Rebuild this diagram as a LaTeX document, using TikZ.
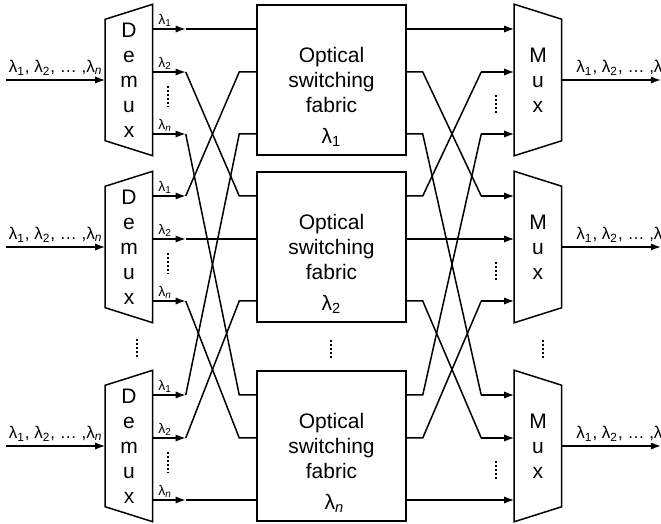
\documentclass[tikz,border=0pt]{standalone}
\usepackage{fontspec}
\setmainfont{Liberation Sans}
\usetikzlibrary{calc,arrows.meta,positioning}

\newcommand{\wl}[1]{λ\textsubscript{#1}}

\tikzset{
  demux/.style={minimum width=23pt, minimum height=75pt, inner sep=0pt, align=center},
  fabric/.style={draw, minimum width=74.5pt, minimum height=75pt, inner sep=0pt, align=center},
  wlabel/.style={font=\fontsize{7}{8}\selectfont, inner sep=1pt, anchor=south west},
  io/.style={font=\fontsize{8.5}{10}\selectfont, inner sep=2pt},
  sig/.style={-{Latex[length=5pt,width=3.6pt]}},
  dots/.style={densely dotted, line width=1pt},
}

\begin{document}
\begin{tikzpicture}[x=0.5pt, y=-0.5pt, line width=0.75pt, font=\fontsize{10.5}{12.5}\selectfont]
    \useasboundingbox (0,0) rectangle (661,524);

    % Demultiplexers
    \node[demux] (D1) at (129,80) {D\\e\\m\\u\\x};
    \node[demux] (D2) at (129,247) {D\\e\\m\\u\\x};
    \node[demux] (D3) at (129,446) {D\\e\\m\\u\\x};

    % Switching fabrics, one per wavelength
    \node[fabric] (F1) at (331.5,80) {Optical\\switching\\fabric};
    \node[fabric] (F2) at (331.5,247) {Optical\\switching\\fabric};
    \node[fabric] (F3) at (331.5,446) {Optical\\switching\\fabric};
    \node (F1l) at ($(F1.south)+(0,-18)$) {\wl{1}};
    \node (F2l) at ($(F2.south)+(0,-18)$) {\wl{2}};
    \node (F3l) at ($(F3.south)+(3,-18)$) {\wl{\textit{n}}};

    % Multiplexers
    \node[demux] (M1) at (538,80) {M\\u\\x};
    \node[demux] (M2) at (538,247) {M\\u\\x};
    \node[demux] (M3) at (538,446) {M\\u\\x};

    % trapezoid outlines
    \foreach \n in {D1,D2,D3}
        \draw (\n.north east) -- (\n.south east) -- ([yshift=7.5pt]\n.south west) -- ([yshift=-7.5pt]\n.north west) -- cycle;
    \foreach \n in {M1,M2,M3}
        \draw (\n.north west) -- (\n.south west) -- ([yshift=7.5pt]\n.south east) -- ([yshift=-7.5pt]\n.north east) -- cycle;

    % Input and output fibres
    \coordinate (in1) at (6,80);
    \coordinate (in2) at (6,247);
    \coordinate (in3) at (6,446);
    \coordinate (out1) at (661,80);
    \coordinate (out2) at (661,247);
    \coordinate (out3) at (661,446);
    \foreach \i in {1,2,3} {
        \draw[sig] (in\i) -- (D\i.west) node[io, midway, above] (L\i) {\wl{1}, \wl{2}, … ,\wl{\textit{n}}};
        \draw[sig] (M\i.east) -- (out\i) node[io, pos=0.1, anchor=south west] (R\i) {\wl{1}, \wl{2}, … ,\wl{\textit{n}}};
    }

    % Wavelength labels and dots
    \foreach \n in {D1,D2,D3} {
        \node[wlabel] (\n-l1) at ($(\n.east)+(3,-51)$) {\wl{1}};
        \node[wlabel] (\n-l2) at ($(\n.east)+(3,-8)$) {\wl{2}};
        \node[wlabel] (\n-ln) at ($(\n.east)+(3,54)$) {\wl{\textit{n}}};
        \draw[dots] ($(\n.east)+(15,6)$) -- ++(0,21);
    }
    \foreach \n in {M1,M2,M3}
        \draw[dots] ($(\n.west)+(-18,15)$) -- ++(0,20);
    \draw[dots] ($(D2.south)+(8,16)$) -- ++(0,20);
    \draw[dots] ($(F2.south)+(0,17)$) -- ++(0,19);
    \draw[dots] ($(M2.south)+(5,17)$) -- ++(0,19);

    % Demux i, wavelength k -> fabric k, port i -> mux i, port k
    \foreach \i/\p in {1/-51,2/-8,3/54}
        \foreach \k/\o in {1/-51,2/-8,3/54} {
            \draw[sig] ($(D\i.east)+(0,\o)$) -- ++(33,0) coordinate (tip);
            \draw (tip) -- ($(F\k.west)+(-17,\p)$) -- ($(F\k.west)+(0,\p)$);
            \draw ($(F\k.east)+(0,\p)$) -- ++(16,0) -- ($(M\i.west)+(-33,\o)$) coordinate (tail);
            \draw[sig] (tail) -- ($(M\i.west)+(0,\o)$);
        }
\end{tikzpicture}
\end{document}
